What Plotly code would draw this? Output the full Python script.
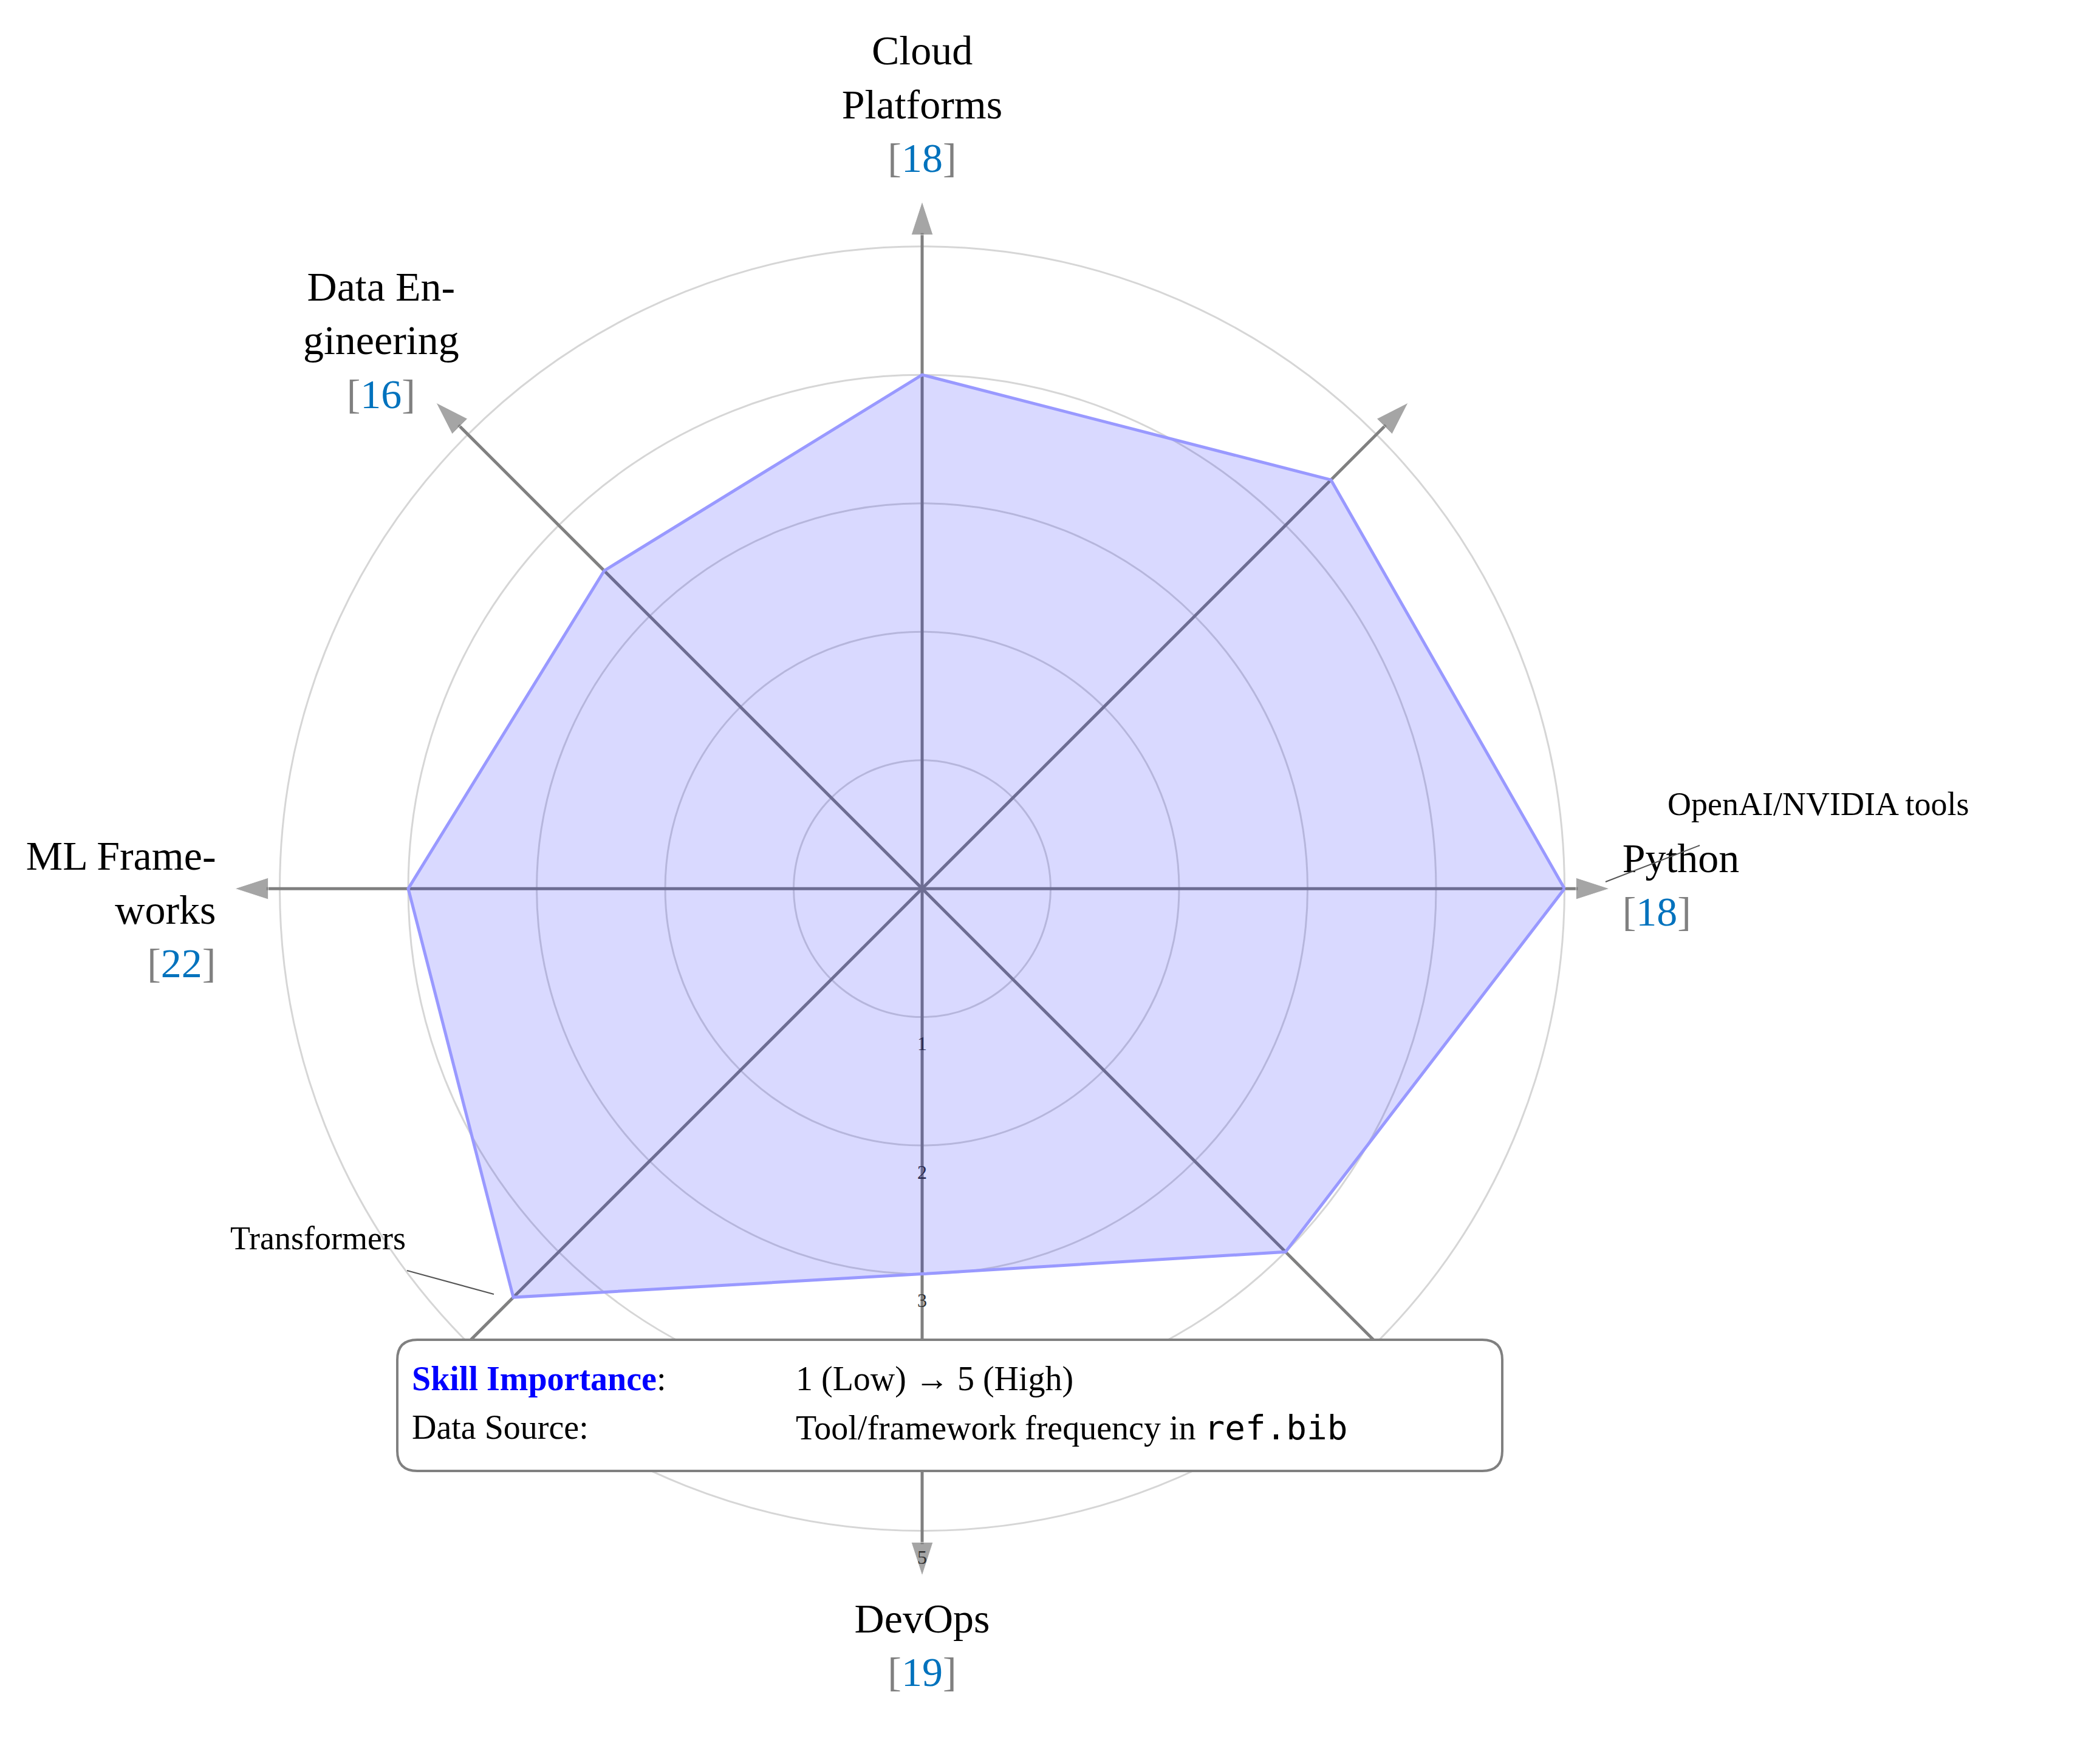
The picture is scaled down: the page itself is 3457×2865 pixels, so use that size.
import plotly.graph_objects as go

categories = ["Python", "Deep Learning", "Cloud\nPlatforms", "Data En-\ngineering",
              "ML Frame-\nworks", "Neural\nNetworks", "DevOps", "ML Theory"]
angles = [0, 45, 90, 135, 180, 225, 270, 315]
scores = [5, 4.5, 4, 3.5, 4, 4.5, 3, 4]
citations = [18, 18, 18, 16, 22, 11, 19, 20]
tick_values = [1, 2, 3, 4, 5]
tick_labels = ["1", "2", "3", "4", "5"]

label_pos = ["middle right", "top center", "top center", "top center",
             "middle left", "bottom center", "bottom center", "bottom center"]
label_r = [5.45, 5.75, 5.5, 5.58, 5.5, 5.8, 5.55, 5.74]
label_theta = [0, 42, 90, 139, 182, 220.8, 270, -43]

SERIF = "Liberation Serif"
fig = go.Figure()

for a in angles:
    fig.add_trace(go.Scatterpolar(
        r=[0, 5.35], theta=[a, a], mode="lines+markers",
        line=dict(color="#808080", width=5),
        marker=dict(symbol="arrow", size=[0, 58], color="#808080", angleref="previous"),
        showlegend=False, hoverinfo="skip", cliponaxis=False))

fig.add_trace(go.Scatterpolar(
    r=[v + 0.22 for v in tick_values], theta=[270] * 5, mode="text",
    text=tick_labels, textfont=dict(family=SERIF, size=32, color="#333333"),
    showlegend=False, hoverinfo="skip", cliponaxis=False))

fig.add_trace(go.Scatterpolar(
    r=scores + [scores[0]], theta=angles + [angles[0]], mode="lines",
    fill="toself", fillcolor="rgba(0,0,255,0.15)",
    line=dict(color="#9999ff", width=5), showlegend=False))

def cite(n):
    return ('<span style="color:#808080">[</span><span style="color:#0072bd">%d</span>'
            '<span style="color:#808080">]</span>' % n)

for cat, t, c, pos, rr in zip(categories, label_theta, citations, label_pos, label_r):
    txt = cat.replace("\n", "<br>") + "<br>" + cite(c)
    fig.add_trace(go.Scatterpolar(
        r=[rr], theta=[t], mode="text", text=[txt], textposition=pos,
        textfont=dict(family=SERIF, size=68, color="black"),
        showlegend=False, hoverinfo="skip", cliponaxis=False))

W, H = 3457, 2865
def px(x, y):
    return x / W, 1 - y / H

shapes = []
for (x0, y0), (x1, y1) in [((2635, 1444), (2790, 1384)), ((662, 2084), (805, 2123))]:
    a0, b0 = px(x0, y0); a1, b1 = px(x1, y1)
    shapes.append(dict(type="line", xref="paper", yref="paper", x0=a0, y0=b0, x1=a1, y1=b1,
                       line=dict(color="#555555", width=2)))

bx0, by0, bx1, by1, rad = 646, 2198, 2465, 2414, 33
def P(x, y):
    a, b = px(x, y)
    return "%.5f,%.5f" % (a, b)
path = ("M " + P(bx0 + rad, by0) + " L " + P(bx1 - rad, by0) + " Q " + P(bx1, by0) + " " + P(bx1, by0 + rad)
        + " L " + P(bx1, by1 - rad) + " Q " + P(bx1, by1) + " " + P(bx1 - rad, by1)
        + " L " + P(bx0 + rad, by1) + " Q " + P(bx0, by1) + " " + P(bx0, by1 - rad)
        + " L " + P(bx0, by0 + rad) + " Q " + P(bx0, by0) + " " + P(bx0 + rad, by0) + " Z")
shapes.append(dict(type="path", xref="paper", yref="paper", path=path,
                   fillcolor="white", line=dict(color="#808080", width=4), layer="above"))

annotations = []
def ann(x, y, text, size, xanchor="left", yanchor="middle"):
    a, b = px(x, y)
    annotations.append(dict(x=a, y=b, xref="paper", yref="paper", text=text, showarrow=False,
                            xanchor=xanchor, yanchor=yanchor,
                            font=dict(family=SERIF, size=size, color="black")))

ann(2735, 1316, "OpenAI/NVIDIA tools", 54)
ann(662, 2031, "Transformers", 54, xanchor="right")
ann(668, 2262, '<span style="color:blue"><b>Skill Importance</b></span>:', 56)
ann(1300, 2262, "1 (Low) → 5 (High)", 56)
ann(668, 2342, "Data Source:", 56)
ann(1300, 2342, 'Tool/framework frequency in <span style="font-family:DejaVu Sans Mono">ref.bib</span>', 56)

fig.update_layout(
    width=W, height=H, paper_bgcolor="white", plot_bgcolor="white",
    margin=dict(l=0, r=0, t=0, b=0), showlegend=False,
    shapes=shapes, annotations=annotations,
    polar=dict(
        domain=dict(x=[0.0942, 0.7794], y=[0.0785, 0.9057]),
        bgcolor="white",
        radialaxis=dict(range=[0, 5.6], tickvals=tick_values, showticklabels=False,
                        showline=False, ticks="", gridcolor="#d6d6d6", gridwidth=3),
        angularaxis=dict(rotation=0, direction="counterclockwise", showgrid=False,
                         showticklabels=False, showline=False, ticks=""),
    ),
)
fig.write_html("out.html")
